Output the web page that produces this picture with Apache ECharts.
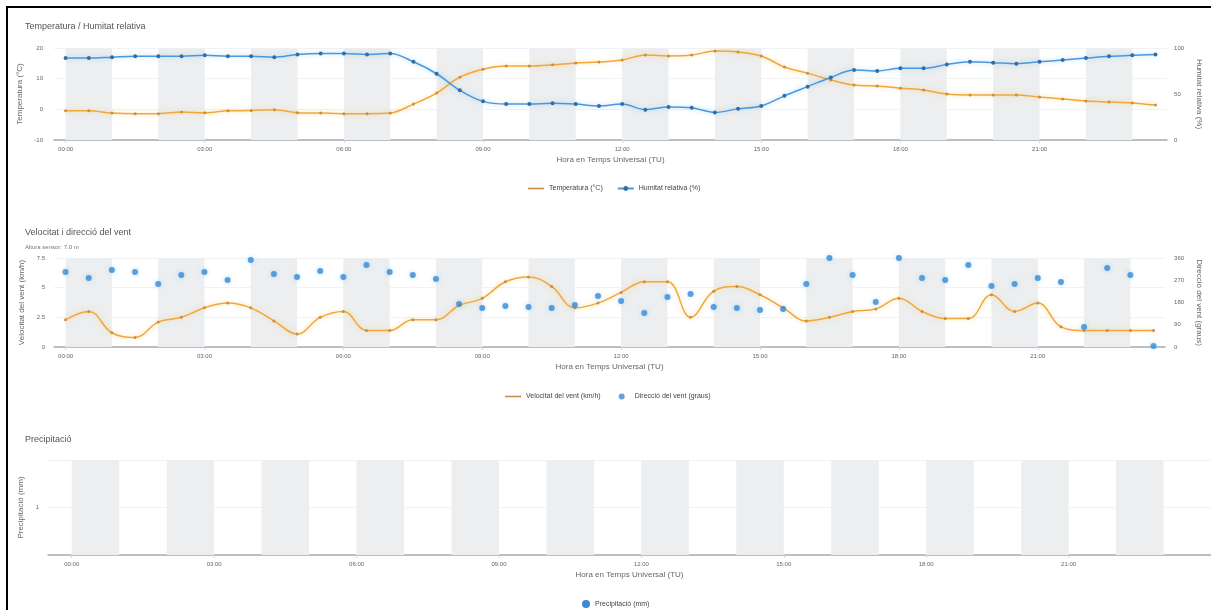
<!DOCTYPE html>
<html>
<head>
<meta charset="utf-8">
<title>Temperatura, vent i precipitació</title>
<script src="https://cdn.jsdelivr.net/npm/echarts@6/dist/echarts.min.js"></script>
<style>
  html, body { margin: 0; padding: 0; background: #fff; }
  #chart { width: 1211px; height: 610px; }
</style>
</head>
<body>
<div id="chart"></div>
<script>
// Half-hourly observation times (UTC)
const times = [
  '00:00','00:30','01:00','01:30','02:00','02:30','03:00','03:30',
  '04:00','04:30','05:00','05:30','06:00','06:30','07:00','07:30',
  '08:00','08:30','09:00','09:30','10:00','10:30','11:00','11:30',
  '12:00','12:30','13:00','13:30','14:00','14:30','15:00','15:30',
  '16:00','16:30','17:00','17:30','18:00','18:30','19:00','19:30',
  '20:00','20:30','21:00','21:30','22:00','22:30','23:00','23:30'
];

// Temperature (°C)
const temperature = [
  -0.5, -0.5, -1.2, -1.4, -1.4, -0.9, -1.1, -0.5,
  -0.4, -0.1, -1.1, -1.2, -1.4, -1.4, -1.2, 1.7,
  5.3, 10.5, 13.1, 14.1, 14.1, 14.5, 15.1, 15.4,
  16.1, 17.7, 17.4, 17.7, 19.0, 18.7, 17.4, 13.8,
  11.8, 9.6, 7.9, 7.6, 6.9, 6.3, 5.0, 4.7,
  4.7, 4.7, 4.0, 3.4, 2.7, 2.4, 2.1, 1.4
];

// Relative humidity (%)
const humidity = [
  89, 89, 90, 91, 91, 91, 92, 91,
  91, 90, 93, 94, 94, 93, 94, 85,
  72, 54, 42, 39, 39, 40, 39, 37,
  39, 33, 36, 35, 30, 34, 37, 48,
  58, 68, 76, 75, 78, 78, 82, 85,
  84, 83, 85, 87, 89, 91, 92, 93
];

// Wind speed (km/h)
const windSpeed = [
  2.3, 3.0, 1.2, 0.8, 2.1, 2.5, 3.3, 3.7,
  3.3, 2.2, 1.1, 2.5, 3.0, 1.4, 1.4, 2.3,
  2.3, 3.5, 4.1, 5.5, 5.9, 5.1, 3.3, 3.7,
  4.6, 5.5, 5.5, 2.5, 4.7, 5.1, 4.4, 3.3,
  2.2, 2.5, 3.0, 3.2, 4.1, 3.0, 2.4, 2.4,
  4.4, 3.0, 3.7, 1.7, 1.4, 1.4, 1.4, 1.4
];

// Wind direction (degrees)
const windDirection = [
  303, 279, 311, 303, 255, 291, 303, 271,
  352, 295, 283, 307, 283, 332, 303, 291,
  275, 174, 158, 166, 162, 158, 170, 206,
  186, 138, 202, 214, 162, 158, 150, 154,
  255, 360, 291, 182, 360, 279, 271, 332,
  247, 255, 279, 263, 81, 320, 291, 4
];

// Precipitation (mm)
const precipitation = [
  0, 0, 0, 0, 0, 0, 0, 0,
  0, 0, 0, 0, 0, 0, 0, 0,
  0, 0, 0, 0, 0, 0, 0, 0,
  0, 0, 0, 0, 0, 0, 0, 0,
  0, 0, 0, 0, 0, 0, 0, 0,
  0, 0, 0, 0, 0, 0, 0, 0
];

// Labelled hours on the time axes
const hourTicks = ['00:00', '03:00', '06:00', '09:00', '12:00', '15:00', '18:00', '21:00'];

// Alternating shaded hour bands
const shadedBands = [
  ['00:00', '01:00'], ['02:00', '03:00'], ['04:00', '05:00'], ['06:00', '07:00'],
  ['08:00', '09:00'], ['10:00', '11:00'], ['12:00', '13:00'], ['14:00', '15:00'],
  ['16:00', '17:00'], ['18:00', '19:00'], ['20:00', '21:00'], ['22:00', '23:00']
];

const toHours = s => { const [h, m] = s.split(':').map(Number); return h + m / 60; };
const fmtHour = v => String(Math.floor(v)).padStart(2, '0') + ':' + String(Math.round((v % 1) * 60)).padStart(2, '0');
const pair = vals => times.map((t, i) => [toHours(t), vals[i]]);

const FONT = '"Liberation Sans", "DejaVu Sans", sans-serif';
const TEXT = '#666';
const ORANGE = '#f3a63c';
const BLUE = '#4b97dc';
const BAND = '#eceeef';

const bandArea = {
  silent: true,
  itemStyle: { color: BAND },
  data: shadedBands.map(([a, b]) => [{ xAxis: toHours(a) }, { xAxis: toHours(b) }])
};

function timeAxis(gridIndex, min, max) {
  const ticks = hourTicks.map(toHours);
  return {
    type: 'value', gridIndex, min, max,
    name: 'Hora en Temps Universal (TU)',
    nameLocation: 'middle', nameGap: 16,
    nameTextStyle: { fontSize: 8, color: TEXT, fontFamily: FONT },
    axisLine: { show: true, onZero: false, lineStyle: { color: '#a9adb1', width: 1.5 } },
    axisTick: { show: true, customValues: ticks, length: 3, lineStyle: { color: '#ccd6eb' } },
    axisLabel: { customValues: ticks, formatter: fmtHour, fontSize: 6, color: TEXT, fontFamily: FONT, margin: 6 },
    splitLine: { show: false }
  };
}

function valueAxis(gridIndex, opts) {
  const right = opts.position === 'right';
  return Object.assign({
    type: 'value', gridIndex,
    nameLocation: 'middle',
    nameRotate: right ? -90 : 90,
    nameTextStyle: { fontSize: 8, color: TEXT, fontFamily: FONT },
    axisLine: { show: false },
    axisTick: { show: false },
    axisLabel: { fontSize: 6, color: TEXT, fontFamily: FONT },
    splitLine: { show: true, lineStyle: { color: '#f1f2f3', width: 1 } }
  }, opts);
}

const titleStyle = { fontSize: 9, fontWeight: 'normal', color: '#555', fontFamily: FONT };
const legendText = { fontSize: 7, color: '#444', fontFamily: FONT };
const lineIcon = 'path://M0,0 L20,0 L20,2 L0,2 Z';

const chart = echarts.init(document.getElementById('chart'), null, { renderer: 'canvas' });

chart.setOption({
  animation: false,
  backgroundColor: '#fff',
  textStyle: { fontFamily: FONT },
  graphic: [
    { type: 'rect', shape: { x: 6, y: 6, width: 1205, height: 2 }, style: { fill: '#000' } },
    { type: 'rect', shape: { x: 6, y: 6, width: 2, height: 604 }, style: { fill: '#000' } }
  ],
  title: [
    { text: 'Temperatura / Humitat relativa', left: 20, top: 17, textStyle: titleStyle },
    { text: 'Velocitat i direcció del vent', left: 20, top: 223, textStyle: titleStyle },
    { text: 'Altura sensor: 7.0 m', left: 20, top: 239, textStyle: { fontSize: 6, fontWeight: 'normal', color: '#777', fontFamily: FONT } },
    { text: 'Precipitació', left: 20, top: 430, textStyle: titleStyle }
  ],
  legend: [
    {
      left: 523, top: 180, itemWidth: 16, itemHeight: 6, itemGap: 14,
      textStyle: legendText,
      data: [
        { name: 'Temperatura (°C)', icon: lineIcon },
        { name: 'Humitat relativa (%)' }
      ]
    },
    {
      left: 500, top: 388, itemWidth: 16, itemHeight: 6, itemGap: 18,
      textStyle: legendText,
      data: [
        { name: 'Velocitat del vent (km/h)', icon: lineIcon },
        { name: 'Direcció del vent (graus)', icon: 'circle' }
      ]
    },
    {
      left: 577, top: 595, itemWidth: 8, itemHeight: 8,
      textStyle: legendText,
      data: [{ name: 'Precipitació (mm)', icon: 'circle' }]
    }
  ],
  grid: [
    { left: 54, width: 1121, top: 48, height: 92 },
    { left: 54, width: 1121, top: 258, height: 89 },
    { left: 48, right: 0, top: 460, height: 95 }
  ],
  xAxis: [
    timeAxis(0, -0.25, 23.75),
    timeAxis(1, -0.25, 23.75),
    timeAxis(2, -0.5, 24)
  ],
  yAxis: [
    valueAxis(0, { min: -10, max: 20, interval: 10, name: 'Temperatura (°C)', nameGap: 26,
      axisLabel: { fontSize: 6, color: TEXT, fontFamily: FONT, margin: 11 } }),
    valueAxis(0, { min: 0, max: 100, interval: 50, position: 'right', name: 'Humitat relativa (%)', nameGap: 24,
      splitLine: { show: false }, axisLabel: { fontSize: 6, color: TEXT, fontFamily: FONT, margin: 7 } }),
    valueAxis(1, { min: 0, max: 7.5, interval: 2.5, name: 'Velocitat del vent (km/h)', nameGap: 26,
      axisLabel: { fontSize: 6, color: TEXT, fontFamily: FONT, margin: 9 } }),
    valueAxis(1, { min: 0, max: 360, interval: 90, position: 'right', name: 'Direcció del vent (graus)', nameGap: 26,
      splitLine: { show: false }, axisLabel: { fontSize: 6, color: TEXT, fontFamily: FONT, margin: 9 } }),
    valueAxis(2, { min: 0, max: 2, interval: 1, name: 'Precipitació (mm)', nameGap: 19,
      axisLabel: { fontSize: 6, color: TEXT, fontFamily: FONT, margin: 9, formatter: v => (v === 1 ? '1' : '') } })
  ],
  series: [
    {
      name: 'Temperatura (°C)', type: 'line', xAxisIndex: 0, yAxisIndex: 0,
      data: pair(temperature), smooth: 0.35,
      symbol: 'circle', symbolSize: 3,
      itemStyle: { color: '#c98f45' },
      lineStyle: { color: ORANGE, width: 1.5, shadowColor: 'rgba(245,200,90,0.6)', shadowBlur: 5 },
      markArea: bandArea, z: 3
    },
    {
      name: 'Humitat relativa (%)', type: 'line', xAxisIndex: 0, yAxisIndex: 1,
      data: pair(humidity), smooth: 0.35,
      symbol: 'circle', symbolSize: 4,
      itemStyle: { color: '#2f6ea6' },
      lineStyle: { color: BLUE, width: 1.5, shadowColor: 'rgba(120,190,240,0.6)', shadowBlur: 5 },
      z: 3
    },
    {
      name: 'Velocitat del vent (km/h)', type: 'line', xAxisIndex: 1, yAxisIndex: 2,
      data: pair(windSpeed), smooth: 0.4,
      symbol: 'circle', symbolSize: 3,
      itemStyle: { color: '#c98f45' },
      lineStyle: { color: ORANGE, width: 1.5, shadowColor: 'rgba(245,200,90,0.6)', shadowBlur: 5 },
      markArea: bandArea, z: 3
    },
    {
      name: 'Direcció del vent (graus)', type: 'scatter', xAxisIndex: 1, yAxisIndex: 3,
      data: pair(windDirection),
      symbol: 'circle', symbolSize: 6,
      itemStyle: { color: '#3a8ad6', shadowColor: 'rgba(120,200,250,0.7)', shadowBlur: 4 },
      z: 4
    },
    {
      name: 'Precipitació (mm)', type: 'bar', xAxisIndex: 2, yAxisIndex: 4,
      data: pair(precipitation), barWidth: 10,
      itemStyle: { color: '#3a8ad6' },
      markArea: bandArea
    }
  ]
});
</script>
</body>
</html>
